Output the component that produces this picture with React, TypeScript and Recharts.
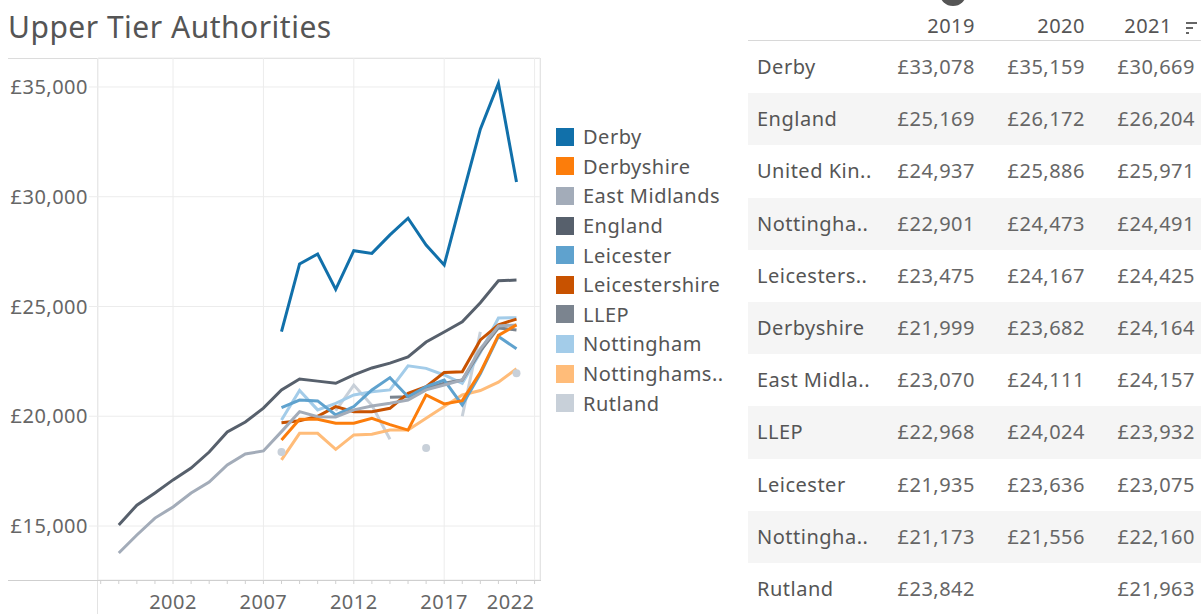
import React from "react";
import { LineChart, Line, XAxis, YAxis, CartesianGrid } from "recharts";

const years = [1999, 2000, 2001, 2002, 2003, 2004, 2005, 2006, 2007, 2008, 2009, 2010, 2011, 2012, 2013, 2014, 2015, 2016, 2017, 2018, 2019, 2020, 2021];

const derby = [null, null, null, null, null, null, null, null, null, 23850, 26940, 27390, 25780, 27540, 27420, 28260, 29020, 27800, 26890, 30000, 33078, 35159, 30669];
const derbyshire = [null, null, null, null, null, null, null, null, null, 18920, 19860, 19860, 19680, 19680, 19910, 19620, 19370, 20970, 20560, 20710, 21999, 23682, 24164];
const eastMidlands = [13770, 14590, 15360, 15870, 16500, 17000, 17780, 18280, 18420, 19300, 20210, 19980, 19970, 20290, 20470, 20590, 20740, 21200, 21420, 21650, 23070, 24111, 24157];
const england = [15050, 15950, 16500, 17100, 17640, 18370, 19280, 19740, 20370, 21200, 21700, 21600, 21500, 21880, 22200, 22420, 22700, 23380, 23840, 24300, 25169, 26172, 26204];
const leicester = [null, null, null, null, null, null, null, null, null, 20390, 20740, 20700, 20060, 20440, 21200, 21760, 20890, 21350, 21650, 20510, 21935, 23636, 23075];
const leicestershire = [null, null, null, null, null, null, null, null, null, 19700, 19790, 20000, 20440, 20210, 20210, 20360, 21040, 21350, 21990, 22030, 23475, 24167, 24425];
const llep = [null, null, null, null, null, null, null, null, null, null, null, null, null, null, null, 20860, 20890, 21270, 21500, 21650, 22968, 24024, 23932];
const nottingham = [null, null, null, null, null, null, null, null, null, 19830, 21170, 20290, 20590, 20970, 21120, 21200, 22300, 22180, 21880, 21500, 22901, 24473, 24491];
const nottinghamshire = [null, null, null, null, null, null, null, null, null, 18010, 19220, 19220, 18490, 19150, 19180, 19370, 19370, 19910, 20440, 20970, 21173, 21556, 22160];
const rutland = [null, null, null, null, null, null, null, null, null, 18370, null, null, 20250, 21420, 20500, 18950, null, 18550, null, 20000, 23842, null, 21963];

const series = [
  { key: "derby", name: "Derby", legend: "Derby", color: "#1170aa", values: derby },
  { key: "derbyshire", name: "Derbyshire", legend: "Derbyshire", color: "#fc7d0b", values: derbyshire },
  { key: "eastMidlands", name: "East Midlands", legend: "East Midlands", color: "#a3acb9", values: eastMidlands },
  { key: "england", name: "England", legend: "England", color: "#57606c", values: england },
  { key: "leicester", name: "Leicester", legend: "Leicester", color: "#5fa2ce", values: leicester },
  { key: "leicestershire", name: "Leicestershire", legend: "Leicestershire", color: "#c85200", values: leicestershire },
  { key: "llep", name: "LLEP", legend: "LLEP", color: "#7b848f", values: llep },
  { key: "nottingham", name: "Nottingham", legend: "Nottingham", color: "#a3cce9", values: nottingham },
  { key: "nottinghamshire", name: "Nottinghamshire", legend: "Nottinghams..", color: "#ffbc79", values: nottinghamshire },
  { key: "rutland", name: "Rutland", legend: "Rutland", color: "#c8d0d9", values: rutland },
];

const yTicks = [15000, 20000, 25000, 30000, 35000];
const xMinorTicks = [1998, 1999, 2000, 2001, 2002, 2003, 2004, 2005, 2006, 2007, 2008, 2009, 2010, 2011, 2012, 2013, 2014, 2015, 2016, 2017, 2018, 2019, 2020, 2021, 2022];
const xLabelTicks = [2002, 2007, 2012, 2017, 2022];

// table on the right
const tableYears = ["2019", "2020", "2021"];
const tableNames = ["Derby", "England", "United Kin..", "Nottingha..", "Leicesters..", "Derbyshire", "East Midla..", "LLEP", "Leicester", "Nottingha..", "Rutland"];
const table2019 = ["£33,078", "£25,169", "£24,937", "£22,901", "£23,475", "£21,999", "£23,070", "£22,968", "£21,935", "£21,173", "£23,842"];
const table2020 = ["£35,159", "£26,172", "£25,886", "£24,473", "£24,167", "£23,682", "£24,111", "£24,024", "£23,636", "£21,556", ""];
const table2021 = ["£30,669", "£26,204", "£25,971", "£24,491", "£24,425", "£24,164", "£24,157", "£23,932", "£23,075", "£22,160", "£21,963"];

const FONT = "'Noto Sans', sans-serif";
const LS = "0.5px";

const data = years.map((year, i) => {
  const row: any = { year };
  series.forEach((s) => {
    row[s.key] = s.values[i];
  });
  return row;
});

const money = (v: number) => "£" + v.toLocaleString("en-GB");

const XTick = (props: any) => {
  const { x, y, payload } = props;
  const yr = payload.value;
  const major = xLabelTicks.includes(yr);
  return (
    <g>
      <line x1={x} x2={x} y1={y} y2={y + 4} stroke="#d0d0d0" />
      {major && (
        <text x={x} y={y + 29} textAnchor={yr === 2022 ? "end" : "middle"} fill="#666" fontSize={20} fontFamily={FONT} letterSpacing={LS}>
          {yr}
        </text>
      )}
    </g>
  );
};

const makeDot = (key: string, color: string) => (props: any) => {
  const { cx, cy, index } = props;
  const prev = index > 0 ? data[index - 1][key] : null;
  const next = index < data.length - 1 ? data[index + 1][key] : null;
  if (data[index][key] == null || prev != null || next != null || cx == null || cy == null) {
    return <g key={`d-${key}-${index}`} />;
  }
  return <circle key={`d-${key}-${index}`} cx={cx} cy={cy} r={4} fill={color} stroke="none" />;
};

const Chart = () => (
  <LineChart width={545} height={614} data={data} margin={{ top: 58, right: 5, bottom: 0, left: 8 }}>
    <CartesianGrid stroke="#ececec" xAxisId="grid" />
    <XAxis
      xAxisId="grid"
      dataKey="year"
      type="number"
      domain={[1997.85, 2022.3]}
      ticks={xLabelTicks}
      allowDataOverflow
      hide
    />
    <XAxis
      dataKey="year"
      type="number"
      domain={[1997.85, 2022.3]}
      ticks={xMinorTicks}
      interval={0}
      allowDataOverflow
      height={34}
      tickSize={0}
      tickMargin={0}
      tickLine={false}
      axisLine={false}
      tick={<XTick />}
    />
    <YAxis
      type="number"
      domain={[12540, 36320]}
      ticks={yTicks}
      allowDataOverflow
      width={90}
      axisLine={false}
      tickLine={{ stroke: "#ececec" }}
      tickSize={9}
      tickMargin={1}
      tickFormatter={money}
      tick={{ fill: "#666", fontSize: 20, fontFamily: FONT, letterSpacing: LS }}
    />
    {[...series].reverse().map((s) => (
      <Line
        key={s.key}
        dataKey={s.key}
        name={s.name}
        stroke={s.color}
        strokeWidth={3}
        type="linear"
        dot={makeDot(s.key, s.color)}
        activeDot={false}
        isAnimationActive={false}
      />
    ))}
  </LineChart>
);

const App = () => {
  return (
    <div style={{ position: "absolute", left: 0, top: 0, width: 1201, height: 614, overflow: "hidden", background: "#fff", fontFamily: FONT, letterSpacing: LS }}>
      <div style={{ position: "absolute", left: 8, top: 6, fontSize: 30, color: "#555", lineHeight: "42px", whiteSpace: "nowrap" }}>
        Upper Tier Authorities
      </div>

      {/* pane borders */}
      <div style={{ position: "absolute", left: 8, top: 58, width: 533, height: 0, borderTop: "1px solid #dcdcdc" }} />
      <div style={{ position: "absolute", left: 540, top: 58, width: 0, height: 522, borderLeft: "1px solid #dcdcdc" }} />
      <div style={{ position: "absolute", left: 97, top: 58, width: 0, height: 556, borderLeft: "1px solid #e3e3e3" }} />

      <div style={{ position: "absolute", left: 0, top: 0 }}>
        <Chart />
      </div>
      <div style={{ position: "absolute", left: 8, top: 580, width: 533, height: 0, borderTop: "1px solid #cfcfcf" }} />

      {/* legend */}
      <div style={{ position: "absolute", left: 556, top: 122 }}>
        {series.map((s) => (
          <div key={s.key} style={{ display: "flex", alignItems: "center", height: 29.6 }}>
            <div style={{ width: 18, height: 18, background: s.color, marginRight: 9 }} />
            <span style={{ fontSize: 20, color: "#555", whiteSpace: "nowrap" }}>{s.legend}</span>
          </div>
        ))}
      </div>

      {/* table */}
      <div style={{ position: "absolute", left: 940, top: -18, width: 26, height: 24, borderRadius: "50%", background: "#555" }} />
      {tableYears.map((yr, i) => (
        <div key={yr} style={{ position: "absolute", top: 12, left: [875, 985, 1072][i], width: 100, textAlign: "right", fontSize: 20, color: "#555" }}>
          {yr}
        </div>
      ))}
      <div style={{ position: "absolute", left: 1186, top: 22, width: 11, height: 2, background: "#666" }} />
      <div style={{ position: "absolute", left: 1186, top: 27, width: 7, height: 2, background: "#666" }} />
      <div style={{ position: "absolute", left: 1186, top: 32, width: 3, height: 2, background: "#666" }} />
      <div style={{ position: "absolute", left: 748, top: 40, width: 453, height: 0, borderTop: "1px solid #d8d8d8" }} />
      {tableNames.map((name, i) => (
        <div
          key={i}
          style={{
            position: "absolute",
            left: 748,
            top: 41 + i * 52.2,
            width: 453,
            height: 52.2,
            background: i % 2 === 1 ? "#f5f5f5" : "#fff",
            fontSize: 20,
            lineHeight: "52px",
            whiteSpace: "nowrap",
          }}
        >
          <span style={{ position: "absolute", left: 9, color: "#555" }}>{name}</span>
          <span style={{ position: "absolute", right: 1201 - 975, color: "#666" }}>{table2019[i]}</span>
          <span style={{ position: "absolute", right: 1201 - 1085, color: "#666" }}>{table2020[i]}</span>
          <span style={{ position: "absolute", right: 1201 - 1195, color: "#666" }}>{table2021[i]}</span>
        </div>
      ))}
    </div>
  );
};

export default App;
